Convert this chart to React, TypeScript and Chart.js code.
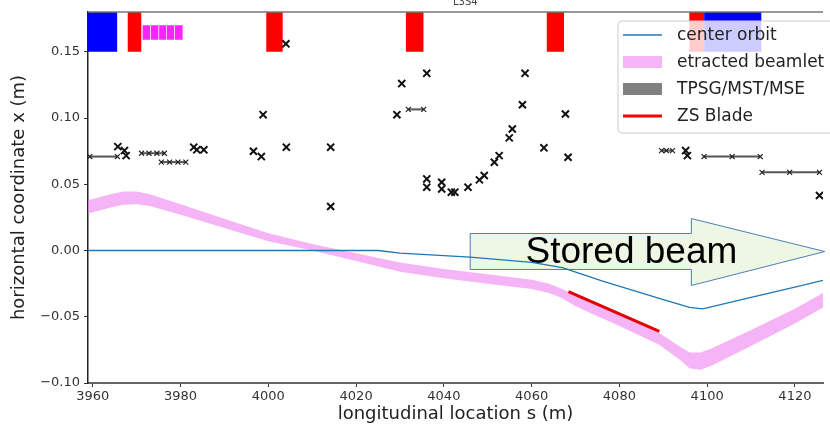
import React, { useEffect, useRef } from 'react';
import { Chart, registerables } from 'chart.js';

Chart.register(...registerables);

// ---- axis ranges & ticks ----
const X_MIN = 3958.9;
const X_MAX = 4126.4;
const Y_MIN = -0.10;
const Y_MAX = 0.18;
const X_STEP = 20;
const Y_STEP = 0.05;

// ---- center orbit ----
const orbitS = [3958.9, 4025, 4030, 4046, 4060, 4067, 4076, 4090, 4096, 4099, 4110, 4120, 4126.4];
const orbitX = [0, 0, -0.002, -0.005, -0.009, -0.013, -0.023, -0.037, -0.043, -0.044, -0.0354, -0.0276, -0.0226];

// ---- extracted beamlet envelope ----
const beamS = [3958.9, 3964, 3967, 3970, 3973, 3980, 3990, 4000, 4010, 4020, 4030, 4040, 4050, 4060, 4064, 4067, 4070, 4080, 4089, 4094, 4096, 4098.5, 4101, 4110, 4120, 4126.4];
const beamTop = [0.038, 0.0425, 0.0445, 0.0445, 0.0425, 0.035, 0.024, 0.013, 0.005, -0.002, -0.009, -0.014, -0.018, -0.022, -0.025, -0.029, -0.034, -0.048, -0.062, -0.073, -0.077, -0.077, -0.074, -0.060, -0.044, -0.032];
const beamBottom = [0.028, 0.0325, 0.0345, 0.035, 0.0335, 0.027, 0.017, 0.007, 0.000, -0.008, -0.016, -0.021, -0.025, -0.029, -0.032, -0.036, -0.042, -0.057, -0.071, -0.083, -0.089, -0.090, -0.087, -0.072, -0.055, -0.043];

// ---- ZS blade ----
const bladeS = [4068.4, 4089.1];
const bladeX = [-0.031, -0.061];

// ---- aperture markers ----
const markS = [3965.7, 3967.2, 3967.6, 3983.0, 3983.7, 3985.3, 3996.6, 3998.4, 3998.8, 4004.1, 4004.0, 4014.2, 4014.2, 4029.3, 4030.4, 4036.1, 4036.1, 4036.1, 4039.5, 4039.5, 4041.7, 4042.5, 4045.5, 4048.1, 4049.2, 4051.5, 4052.6, 4054.9, 4055.6, 4057.9, 4058.5, 4062.8, 4067.7, 4068.3, 4095.1, 4095.5, 4125.6];
const markX = [0.0784, 0.0754, 0.0716, 0.078, 0.076, 0.076, 0.0749, 0.0709, 0.1025, 0.078, 0.156, 0.078, 0.0332, 0.1025, 0.126, 0.1337, 0.054, 0.0478, 0.0515, 0.0465, 0.044, 0.044, 0.0478, 0.0533, 0.0566, 0.0666, 0.0716, 0.085, 0.0917, 0.110, 0.1337, 0.0775, 0.103, 0.0704, 0.0754, 0.0716, 0.0415];

// ---- aperture segments (s positions, common x) ----
const segA_S = [3959.3, 3965.6];
const segA_X = 0.0709;
const segB_S = [4031.9, 4035.4];
const segB_X = 0.1065;
const segC_S = [4099.3, 4105.7, 4112.1];
const segC_X = 0.0709;
const segD_S = [4112.5, 4118.8, 4125.6];
const segD_X = 0.059;
const segE_S = [3971.1, 3972.8, 3974.6, 3976.3];
const segE_X = 0.0734;
const segF_S = [3975.6, 3977.5, 3979.4, 3981.2];
const segF_X = 0.0667;
const segG_S = [4089.6, 4090.7, 4092.1];
const segG_X = 0.0754;

// ---- magnet blocks (start, end) ----
const blueBlocks = [[3958.9, 3965.6], [4099.3, 4112.4]];
const redBlocks = [[3967.9, 3971.1], [3999.5, 4003.3], [4031.3, 4035.4], [4063.4, 4067.4], [4095.9, 4099.3]];
const blockBottom = 0.15;
const blockTop = 0.18;
const magentaBlocks = [[3971.3, 3973.1], [3973.2, 3975.0], [3975.1, 3976.8], [3976.9, 3978.6], [3978.7, 3980.5]];
const magentaBottom = 0.159;
const magentaTop = 0.170;

// ---- legend ----
const legendLabels = ['center orbit', 'etracted beamlet', 'TPSG/MST/MSE', 'ZS Blade'];

const ORBIT_COLOR = '#1f77b4';
const BEAM_COLOR = 'rgba(238,130,238,0.6)';

const pts = (s: number[], x: number[]) => s.map((v, i) => ({ x: v, y: x[i] }));
const flat = (s: number[], x: number) => s.map((v) => ({ x: v, y: x }));

function blockDataset(b: number[], top: number, bottom: number, color: string) {
  return {
    type: 'line',
    data: [{ x: b[0], y: top }, { x: b[1], y: top }],
    borderColor: 'transparent',
    borderWidth: 0,
    backgroundColor: color,
    pointRadius: 0,
    fill: { value: bottom },
    order: 10,
  };
}

function segDataset(s: number[], x: number) {
  return {
    type: 'line',
    data: flat(s, x),
    borderColor: '#555',
    borderWidth: 2,
    pointStyle: 'crossRot',
    pointRadius: 3.5,
    pointBorderWidth: 1.2,
    pointBorderColor: '#222',
    pointBackgroundColor: '#222',
    fill: false,
    order: 2,
  };
}

const overlayPlugin = {
  id: 'overlay',
  beforeDatasetsDraw(chart: any) {
    const { ctx, scales } = chart;
    const xs = scales.x;
    const ys = scales.y;
    const px = (v: number) => xs.getPixelForValue(v);
    const py = (v: number) => ys.getPixelForValue(v);
    // "Stored beam" arrow
    const bodyL = px(4046.0);
    const headB = px(4096.4);
    const tip = px(4126.8);
    const bt = py(0.0128);
    const bb = py(-0.0143);
    const ht = py(0.0241);
    const hb = py(-0.0264);
    const tm = py(-0.0008);
    ctx.save();
    ctx.beginPath();
    ctx.moveTo(bodyL, bt);
    ctx.lineTo(headB, bt);
    ctx.lineTo(headB, ht);
    ctx.lineTo(tip, tm);
    ctx.lineTo(headB, hb);
    ctx.lineTo(headB, bb);
    ctx.lineTo(bodyL, bb);
    ctx.closePath();
    ctx.fillStyle = '#eef7e3';
    ctx.fill();
    ctx.strokeStyle = '#4a7ebb';
    ctx.lineWidth = 1;
    ctx.stroke();
    ctx.fillStyle = '#000';
    ctx.font = '37px "Liberation Sans", Arial, sans-serif';
    ctx.textBaseline = 'alphabetic';
    ctx.textAlign = 'left';
    ctx.fillText('Stored beam', px(4058.6), py(-0.0098));
    ctx.restore();
  },
  afterDatasetsDraw(chart: any) {
    const { ctx, chartArea } = chart;
    ctx.save();
    // top spine
    ctx.strokeStyle = '#777';
    ctx.lineWidth = 1.5;
    ctx.beginPath();
    ctx.moveTo(chartArea.left, chartArea.top);
    ctx.lineTo(chartArea.right, chartArea.top);
    ctx.stroke();

    // legend
    const lx = 618;
    const ly = 21;
    const lw = 240;
    const lh = 112;
    const r = 4;
    ctx.beginPath();
    ctx.moveTo(lx + r, ly);
    ctx.lineTo(lx + lw - r, ly);
    ctx.arcTo(lx + lw, ly, lx + lw, ly + r, r);
    ctx.lineTo(lx + lw, ly + lh - r);
    ctx.arcTo(lx + lw, ly + lh, lx + lw - r, ly + lh, r);
    ctx.lineTo(lx + r, ly + lh);
    ctx.arcTo(lx, ly + lh, lx, ly + lh - r, r);
    ctx.lineTo(lx, ly + r);
    ctx.arcTo(lx, ly, lx + r, ly, r);
    ctx.closePath();
    ctx.fillStyle = 'rgba(255,255,255,0.8)';
    ctx.fill();
    ctx.strokeStyle = '#cccccc';
    ctx.lineWidth = 1;
    ctx.stroke();

    const rows = [35, 62, 89, 116];
    const hx0 = 623;
    const hx1 = 662;
    // handles
    ctx.strokeStyle = ORBIT_COLOR;
    ctx.lineWidth = 1.5;
    ctx.beginPath();
    ctx.moveTo(hx0, rows[0]);
    ctx.lineTo(hx1, rows[0]);
    ctx.stroke();
    ctx.fillStyle = BEAM_COLOR;
    ctx.fillRect(hx0, rows[1] - 6, hx1 - hx0, 12);
    ctx.fillStyle = '#808080';
    ctx.fillRect(hx0, rows[2] - 6, hx1 - hx0, 12);
    ctx.strokeStyle = '#ff0000';
    ctx.lineWidth = 3;
    ctx.beginPath();
    ctx.moveTo(hx0, rows[3]);
    ctx.lineTo(hx1, rows[3]);
    ctx.stroke();

    ctx.fillStyle = '#222';
    ctx.font = '17px "DejaVu Sans"';
    ctx.textBaseline = 'middle';
    ctx.textAlign = 'left';
    legendLabels.forEach((t, i) => ctx.fillText(t, 677, rows[i] + 1));

    // cut-off title fragment
    ctx.fillStyle = '#444';
    ctx.font = '10px "DejaVu Sans"';
    ctx.textBaseline = 'alphabetic';
    ctx.fillText('L3S4', 453, 5);
    ctx.restore();
  },
};

export default function App() {
  const ref = useRef<HTMLCanvasElement | null>(null);

  useEffect(() => {
    if (!ref.current) return;
    Chart.defaults.font.family = '"DejaVu Sans", sans-serif';
    const datasets: any[] = [];

    blueBlocks.forEach((b) => datasets.push(blockDataset(b, blockTop, blockBottom, '#0000ff')));
    redBlocks.forEach((b) => datasets.push(blockDataset(b, blockTop, blockBottom, '#ff0000')));
    magentaBlocks.forEach((b) => datasets.push(blockDataset(b, magentaTop, magentaBottom, '#ff22ff')));

    datasets.push({
      type: 'line',
      label: 'beam top',
      data: pts(beamS, beamTop),
      borderColor: 'transparent',
      borderWidth: 0,
      backgroundColor: BEAM_COLOR,
      pointRadius: 0,
      tension: 0,
      fill: '+1',
      order: 8,
    });
    datasets.push({
      type: 'line',
      label: 'beam bottom',
      data: pts(beamS, beamBottom),
      borderColor: 'transparent',
      borderWidth: 0,
      pointRadius: 0,
      tension: 0,
      fill: false,
      order: 9,
    });
    datasets.push({
      type: 'line',
      label: 'center orbit',
      data: pts(orbitS, orbitX),
      borderColor: ORBIT_COLOR,
      borderWidth: 1.3,
      pointRadius: 0,
      fill: false,
      order: 5,
    });
    datasets.push({
      type: 'line',
      label: 'ZS Blade',
      data: pts(bladeS, bladeX),
      borderColor: '#e00000',
      borderWidth: 3,
      pointRadius: 0,
      fill: false,
      order: 4,
    });
    [
      [segA_S, segA_X],
      [segB_S, segB_X],
      [segC_S, segC_X],
      [segD_S, segD_X],
      [segE_S, segE_X],
      [segF_S, segF_X],
      [segG_S, segG_X],
    ].forEach(([s, x]: any) => datasets.push(segDataset(s, x)));
    datasets.push({
      type: 'line',
      label: 'apertures',
      data: pts(markS, markX),
      showLine: false,
      pointStyle: 'crossRot',
      pointRadius: 5,
      pointBorderWidth: 2,
      pointBorderColor: '#111',
      pointBackgroundColor: '#111',
      order: 1,
    });

    const fmtY = (v: number) => {
      const r = Math.round(v * 100) / 100;
      return (r < 0 ? '\u2212' : '') + Math.abs(r).toFixed(2);
    };

    const chart = new Chart(ref.current, {
      type: 'line',
      data: { datasets },
      plugins: [overlayPlugin],
      options: {
        animation: false,
        responsive: false,
        maintainAspectRatio: false,
        layout: { padding: { top: 12, left: 0, right: 0, bottom: 0 } },
        plugins: {
          legend: { display: false },
          tooltip: { enabled: false },
          title: { display: false },
        },
        elements: { line: { tension: 0 } },
        scales: {
          x: {
            type: 'linear',
            min: X_MIN,
            max: X_MAX,
            afterFit: (s: any) => {
              s.height = 42;
            },
            ticks: {
              stepSize: X_STEP,
              includeBounds: false,
              color: '#333',
              font: { size: 13 },
              padding: 2,
              maxRotation: 0,
              callback: (v: any) => String(Math.round(v)),
            },
            grid: { drawOnChartArea: false, drawTicks: true, tickLength: 4, color: '#333' },
            border: { display: true, color: '#666', width: 2 },
            title: {
              display: true,
              text: 'longitudinal location s (m)',
              color: '#222',
              font: { size: 18 },
              padding: { top: 0, bottom: 0 },
            },
          },
          y: {
            type: 'linear',
            min: Y_MIN,
            max: Y_MAX,
            afterFit: (s: any) => {
              s.width = 88;
            },
            ticks: {
              stepSize: Y_STEP,
              includeBounds: false,
              color: '#333',
              font: { size: 13 },
              padding: 4,
              callback: (v: any) => fmtY(Number(v)),
            },
            grid: { drawOnChartArea: false, drawTicks: true, tickLength: 4, color: '#333' },
            border: { display: true, color: '#222', width: 1.5 },
            title: {
              display: true,
              text: 'horizontal coordinate x (m)',
              color: '#222',
              font: { size: 18 },
              padding: { top: 9, bottom: 0 },
            },
          },
        },
      } as any,
    });
    return () => chart.destroy();
  }, []);

  return (
    <div
      style={{
        position: 'fixed',
        left: 0,
        top: 0,
        width: 830,
        height: 425,
        overflow: 'hidden',
        background: '#fff',
      }}
    >
      <canvas ref={ref} width={830} height={425} style={{ display: 'block' }} />
    </div>
  );
}
